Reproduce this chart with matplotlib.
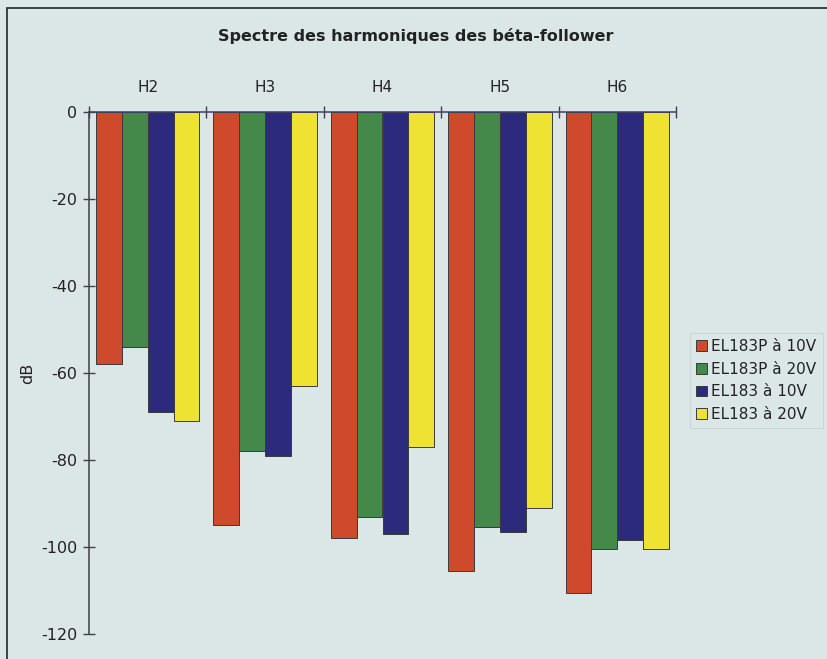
import numpy as np
import matplotlib.pyplot as plt
from matplotlib.patches import Rectangle

plt.rcParams['axes.unicode_minus'] = False

# Data (dB)
harmonics = ['H2', 'H3', 'H4', 'H5', 'H6']
series = ['EL183P à 10V', 'EL183P à 20V', 'EL183 à 10V', 'EL183 à 20V']
el183p_10v = [-58, -95, -98, -105.5, -110.5]
el183p_20v = [-54, -78, -93, -95.5, -100.5]
el183_10v = [-69, -79, -97, -96.5, -98.5]
el183_20v = [-71, -63, -77, -91, -100.5]
colors = ['#cf4a2c', '#45894a', '#2c2a7c', '#eee232']

values = [el183p_10v, el183p_20v, el183_10v, el183_20v]

bg = '#dbe6e7'
fig = plt.figure(figsize=(8.28, 6.59), dpi=100, facecolor=bg)
ax = fig.add_axes([89/828, 1-634/659, (676-89)/828, (634-112)/659])
ax.set_facecolor(bg)

x = np.arange(len(harmonics))
w = 0.22
for i, (vals, name) in enumerate(zip(values, series)):
    ax.bar(x + (i - 1.5) * w, vals, width=w, color=colors[i],
           edgecolor='#3a3a3a', linewidth=0.7, label=name, zorder=2)

ax.set_xlim(-0.5, len(harmonics) - 0.5)
ax.set_ylim(-120, 0)

for s in ['right', 'bottom']:
    ax.spines[s].set_visible(False)
ax.spines['left'].set_color('#404048')
ax.spines['top'].set_color('#404060')
ax.spines['left'].set_linewidth(1.1)
ax.spines['top'].set_linewidth(1.1)
ax.spines['top'].set_zorder(3)

ax.xaxis.tick_top()
ax.set_xticks(x)
ax.set_xticklabels(harmonics, fontsize=11, color='#222')
ax.tick_params(axis='x', which='major', length=0, pad=12)
ax.set_xticks(np.arange(-0.5, len(harmonics)), minor=True)
ax.tick_params(axis='x', which='minor', direction='inout', length=8,
               width=1, color='#404048')

ax.set_yticks(np.arange(-120, 1, 20))
ax.tick_params(axis='y', direction='inout', length=9, width=1,
               color='#404048', labelsize=11.5, labelcolor='#222', pad=4)

fig.text(28/828, 1-373/659, 'dB', rotation=90, ha='center', va='center',
         fontsize=11.5, color='#222')

fig.text(416/828, 1-36/659, 'Spectre des harmoniques des béta-follower',
         ha='center', va='center', fontsize=11.5, fontweight='bold', color='#222')

leg = ax.legend(loc='upper left', bbox_to_anchor=(690/828, 1-333/659),
                bbox_transform=fig.transFigure, fontsize=11, frameon=True,
                fancybox=False, handlelength=0.7, handleheight=0.7,
                handletextpad=0.3, labelspacing=0.5, borderpad=0.4,
                borderaxespad=0)
leg.get_frame().set_edgecolor('#c8d2d4')
leg.get_frame().set_facecolor(bg)
leg.get_frame().set_linewidth(0.8)
for t in leg.get_texts():
    t.set_color('#222')

fig.add_artist(Rectangle((7/828, -0.1), 1.0, 1.1 - 8/659, fill=False,
                         transform=fig.transFigure, edgecolor='#333',
                         linewidth=1.3))

fig.savefig('out.png', dpi=100, facecolor=bg)
